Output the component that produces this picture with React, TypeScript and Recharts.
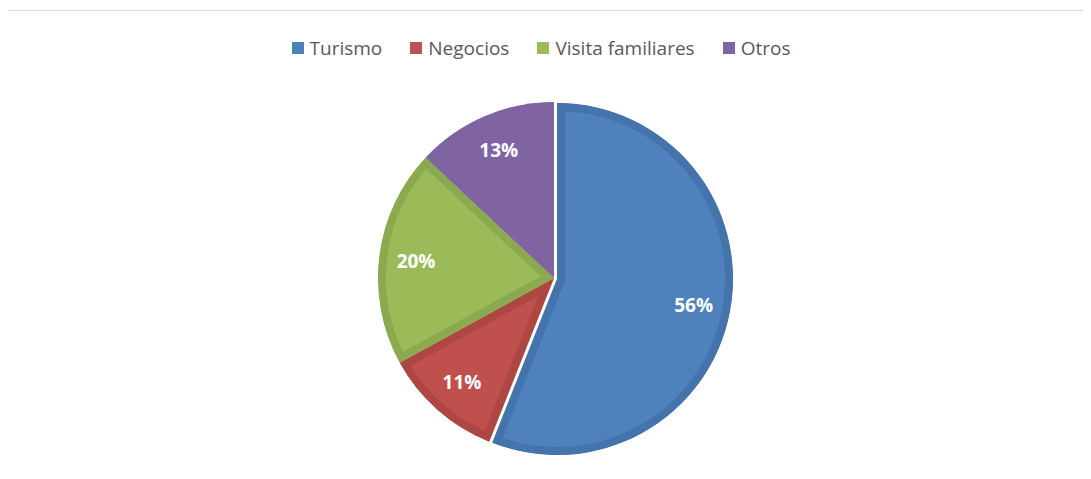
import { PieChart, Pie, Cell, Legend, Sector } from "recharts";

const categories = ["Turismo", "Negocios", "Visita familiares", "Otros"];
const shares = [56, 11, 20, 13];
const fills = ["#4F81BD", "#C0504D", "#9BBB59", "#8064A2"];
const borders = ["#4573AB", "#AE4744", "#8BAA4F", "#8064A2"];

const data = categories.map((name, i) => ({ name, value: shares[i] }));

const W = 1083;
const H = 468;
const CX = 546;
const CY = 267;
const R = 176;

// the pulled-out slice (Turismo) is index 0
const makeShape = (onlyFirst: boolean) => (props: any) => {
  const { cx, cy, outerRadius, startAngle, endAngle, index } = props;
  const show = onlyFirst ? index === 0 : index !== 0;
  if (!show) return <g />;
  const id = `clip-${onlyFirst ? "a" : "b"}-${index}`;
  return (
    <g>
      <defs>
        <clipPath id={id}>
          <Sector cx={cx} cy={cy} innerRadius={0} outerRadius={outerRadius} startAngle={startAngle} endAngle={endAngle} />
        </clipPath>
      </defs>
      <Sector
        cx={cx}
        cy={cy}
        innerRadius={0}
        outerRadius={outerRadius}
        startAngle={startAngle}
        endAngle={endAngle}
        fill={fills[index]}
        stroke={borders[index]}
        strokeWidth={16}
        clipPath={`url(#${id})`}
      />
    </g>
  );
};

const makeLabel = (onlyFirst: boolean) => (props: any) => {
  const { cx, cy, midAngle, outerRadius, index } = props;
  const show = onlyFirst ? index === 0 : index !== 0;
  if (!show) return null;
  const RAD = Math.PI / 180;
  const r = outerRadius * 0.79;
  const x = cx + r * Math.cos(-midAngle * RAD);
  const y = cy + r * Math.sin(-midAngle * RAD);
  return (
    <text
      x={x}
      y={y}
      fill="#ffffff"
      textAnchor="middle"
      dominantBaseline="central"
      fontFamily="'Open Sans', sans-serif"
      fontWeight={700}
      fontSize={19}
    >
      {shares[index]}%
    </text>
  );
};

const LegendBox = () => (
  <div
    style={{
      display: "flex",
      justifyContent: "center",
      gap: 28,
      fontFamily: "'Open Sans', sans-serif",
      fontSize: 19,
      lineHeight: "24px",
      color: "#595959",
      paddingRight: 17,
    }}
  >
    {categories.map((c, i) => (
      <div key={c} style={{ display: "flex", alignItems: "center" }}>
        <span style={{ width: 12, height: 12, background: fills[i], marginRight: 6, display: "inline-block" }} />
        <span>{c}</span>
      </div>
    ))}
  </div>
);

export default function App() {
  return (
    <div
      style={{
        position: "relative",
        left: -1,
        top: 2,
        width: 1083,
        height: 468,
        borderLeft: "1px solid #d9d9d9",
        borderTop: "1px solid #d9d9d9",
        background: "#fff",
      }}
    >
      <PieChart width={W} height={H} margin={{ top: 0, right: 0, bottom: 0, left: 0 }}>
        <Legend
          verticalAlign="middle"
          align="center"
          wrapperStyle={{ top: 25, left: 0, width: W }}
          content={<LegendBox />}
        />
        <Pie
          data={data}
          dataKey="value"
          nameKey="name"
          cx={CX}
          cy={CY}
          outerRadius={R}
          startAngle={90}
          endAngle={-270}
          stroke="none"
          labelLine={false}
          label={makeLabel(false)}
          shape={makeShape(false)}
          inactiveShape={makeShape(false)}
          isAnimationActive={false}
        >
          {data.map((d, i) => (
            <Cell key={d.name} fill={fills[i]} />
          ))}
        </Pie>
        <Pie
          data={data}
          dataKey="value"
          nameKey="name"
          cx={CX + 3}
          cy={CY + 1}
          outerRadius={R}
          startAngle={90}
          endAngle={-270}
          stroke="none"
          labelLine={false}
          label={makeLabel(true)}
          shape={makeShape(true)}
          inactiveShape={makeShape(true)}
          isAnimationActive={false}
        >
          {data.map((d, i) => (
            <Cell key={d.name} fill={fills[i]} />
          ))}
        </Pie>
      </PieChart>
    </div>
  );
}
